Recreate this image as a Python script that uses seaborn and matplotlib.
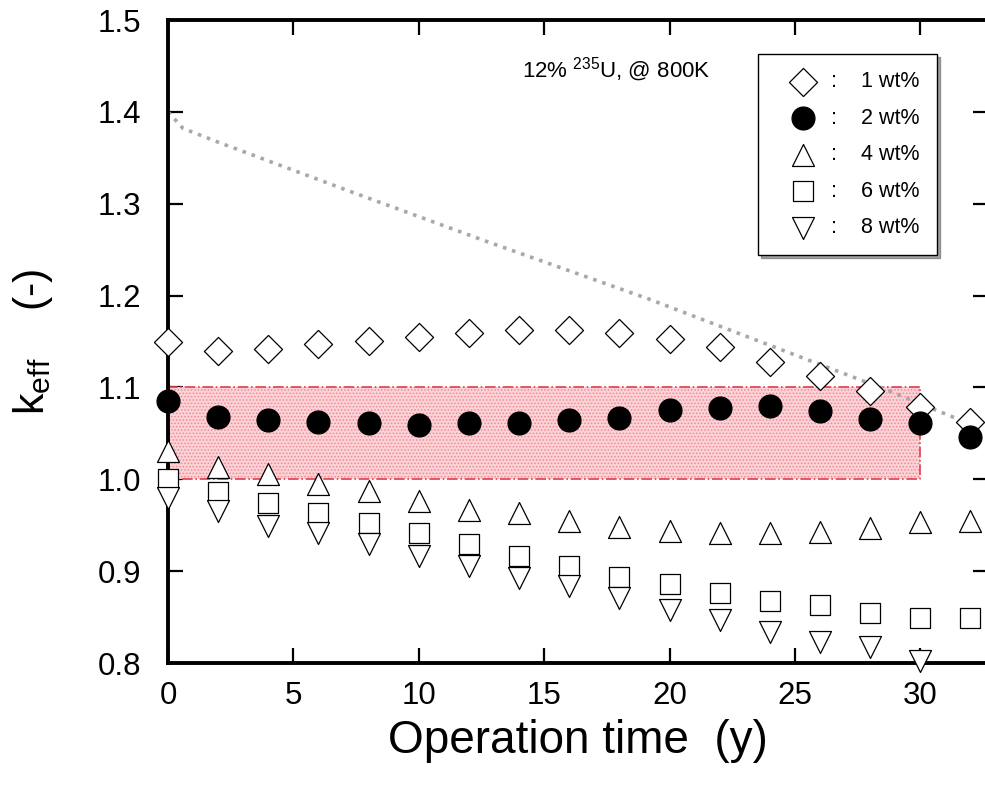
import matplotlib
matplotlib.use("Agg")
import matplotlib.pyplot as plt
import seaborn as sns

# Operation time (years) and k_eff for each burnable-absorber loading
years = [0, 2, 4, 6, 8, 10, 12, 14, 16, 18, 20, 22, 24, 26, 28, 30, 32]
k_1wt = [1.150, 1.140, 1.142, 1.147, 1.151, 1.155, 1.159, 1.162, 1.162,
         1.159, 1.153, 1.144, 1.128, 1.112, 1.096, 1.079, 1.062]
k_2wt = [1.085, 1.068, 1.065, 1.062, 1.061, 1.059, 1.061, 1.061, 1.064,
         1.067, 1.075, 1.078, 1.080, 1.074, 1.066, 1.061, 1.046]
k_4wt = [1.031, 1.013, 1.006, 0.995, 0.987, 0.976, 0.967, 0.963, 0.955,
         0.948, 0.944, 0.942, 0.941, 0.943, 0.947, 0.954, 0.955]
k_6wt = [1.000, 0.986, 0.974, 0.963, 0.952, 0.941, 0.930, 0.916, 0.906,
         0.894, 0.886, 0.876, 0.868, 0.863, 0.854, 0.849, 0.849]
years_8wt = [0, 2, 4, 6, 8, 10, 12, 14, 16, 18, 20, 22, 24, 26, 28, 30]
k_8wt = [0.980, 0.965, 0.949, 0.942, 0.930, 0.916, 0.906, 0.893, 0.884,
         0.871, 0.858, 0.847, 0.834, 0.823, 0.817, 0.802]

# Reference curve without burnable absorber
ref_years = [0, 0.6, 2, 7.3, 12.6, 19.2, 25.9, 28.5, 32]
ref_k = [1.400, 1.382, 1.367, 1.313, 1.260, 1.196, 1.126, 1.099, 1.060]

# Target criticality window
band_start, band_end = 0, 30
band_low, band_high = 1.0, 1.1

series_labels = ["1 wt%", "2 wt%", "4 wt%", "6 wt%", "8 wt%"]
x_ticks = [0, 5, 10, 15, 20, 25, 30]
y_ticks = [0.8, 0.9, 1.0, 1.1, 1.2, 1.3, 1.4, 1.5]

sns.set_theme(style="ticks")
plt.rcParams["font.family"] = ["Liberation Sans", "DejaVu Sans"]
plt.rcParams["mathtext.default"] = "regular"
plt.rcParams["hatch.linewidth"] = 0.7
plt.rcParams["text.color"] = "black"
plt.rcParams["axes.labelcolor"] = "black"
plt.rcParams["xtick.color"] = "black"
plt.rcParams["ytick.color"] = "black"

fig = plt.figure(figsize=(9.85, 7.85), dpi=100)
ax = fig.add_axes([168 / 985, 122 / 785, 820 / 985, 643 / 785])

# criticality window: stippled pink fill plus dash-dot outline
ax.fill_between([band_start, band_end], band_low, band_high,
                facecolor="#fbd3d7", edgecolor="#ee8a95", hatch=".....",
                linewidth=0, zorder=1)
ax.fill_between([band_start, band_end], band_low, band_high,
                facecolor="none", edgecolor="#e23c4e", linestyle="-.",
                linewidth=1.2, zorder=1.5)

sns.lineplot(x=ref_years, y=ref_k, ax=ax, color="#a8a8a8", linestyle=":",
             linewidth=2.6, estimator=None, sort=False, zorder=2)

pad = ":    "
mk = dict(edgecolor="black", linewidth=0.9, clip_on=False, zorder=4, ax=ax)
sns.scatterplot(x=years, y=k_1wt, marker="D", s=205, color="white",
                label=pad + series_labels[0], **mk)
sns.scatterplot(x=years, y=k_2wt, marker="o", s=272, color="black",
                label=pad + series_labels[1], **mk)
sns.scatterplot(x=years, y=k_4wt, marker="^", s=250, color="white",
                label=pad + series_labels[2], **mk)
sns.scatterplot(x=years, y=k_6wt, marker="s", s=188, color="white",
                label=pad + series_labels[3], **mk)
sns.scatterplot(x=years_8wt, y=k_8wt, marker="v", s=250, color="white",
                label=pad + series_labels[4], **mk)

ax.set_xlim(0, 32.7)
ax.set_ylim(0.8, 1.5)
ax.set_xticks(x_ticks)
ax.set_yticks(y_ticks)
ax.set_xticklabels([str(t) for t in x_ticks])
ax.set_yticklabels([f"{t:.1f}" for t in y_ticks])

for s in ax.spines.values():
    s.set_visible(True)
    s.set_linewidth(2.8)
    s.set_color("black")
ax.tick_params(axis="both", which="major", direction="in", length=11,
               width=1.6, color="black", labelcolor="black", labelsize=22.5,
               top=True, right=True)
ax.tick_params(axis="x", pad=13)
ax.tick_params(axis="y", pad=19)

ax.set_xlabel("Operation time  (y)", fontsize=33, labelpad=6, color="black")
ax.set_ylabel("k$_{eff}$    (-)", fontsize=31, labelpad=31, color="black")

ax.text(14.1, 1.438, "12% $^{235}$U, @ 800K", fontsize=16, color="black")

leg = ax.legend(loc="upper left", bbox_to_anchor=(758 / 985, 1 - 54 / 785),
                bbox_transform=fig.transFigure, borderaxespad=0,
                fontsize=15.5, frameon=True, fancybox=False, shadow=True,
                handlelength=2.6, handletextpad=0.0, borderpad=0.8,
                labelspacing=0.72)
leg.get_frame().set_edgecolor("black")
leg.get_frame().set_linewidth(1.0)
leg.get_frame().set_alpha(1)
for t in leg.get_texts():
    t.set_color("black")

fig.savefig("out.png", dpi=100)
